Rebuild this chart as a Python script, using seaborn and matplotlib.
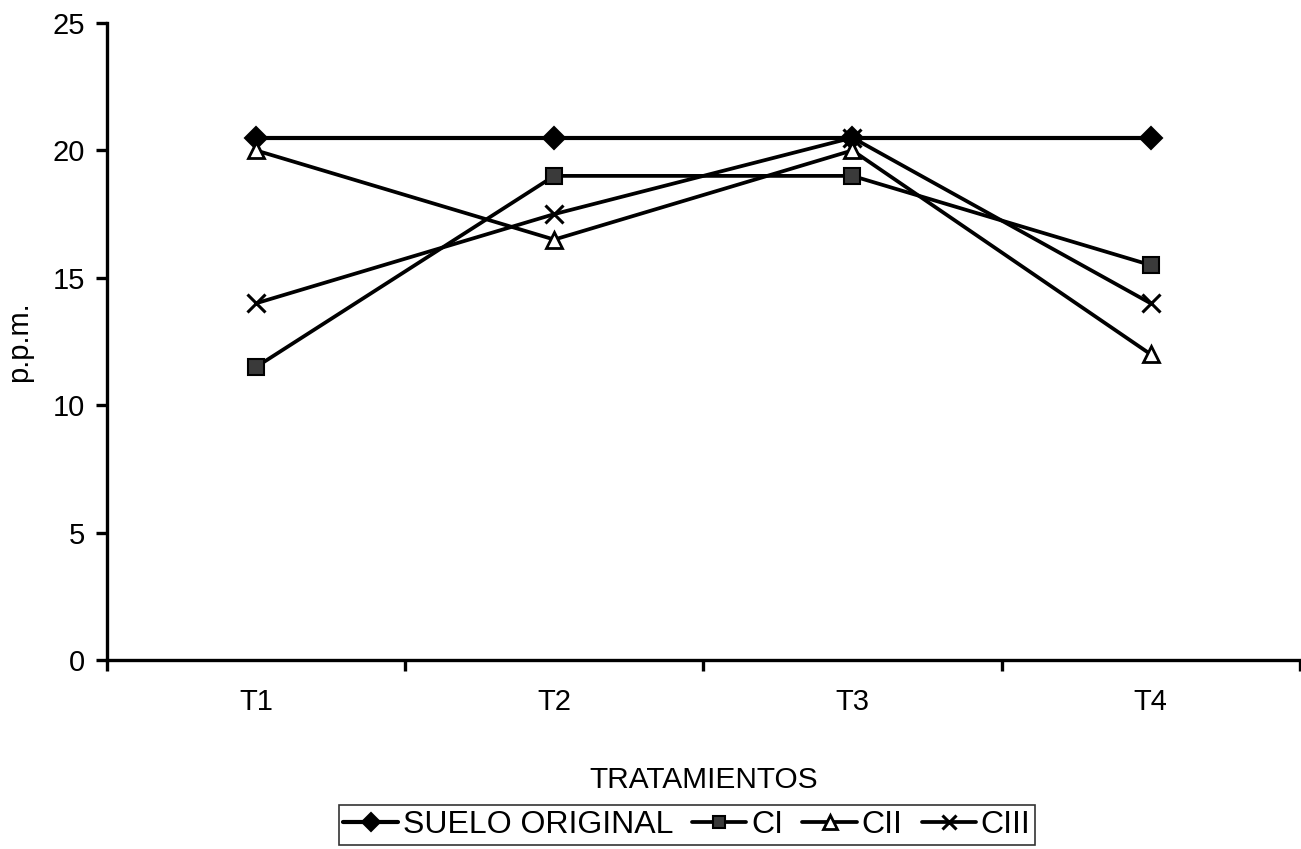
import matplotlib
matplotlib.use("Agg")
import matplotlib.pyplot as plt
import seaborn as sns
import pandas as pd

sns.set_theme(style="white")
plt.rcParams['font.family'] = ['Liberation Sans', 'DejaVu Sans']

tratamientos = ["T1", "T2", "T3", "T4"]
suelo_original = [20.5, 20.5, 20.5, 20.5]
ci = [11.5, 19.0, 19.0, 15.5]
cii = [20.0, 16.5, 20.0, 12.0]
ciii = [14.0, 17.5, 20.5, 14.0]

series = {
    "SUELO ORIGINAL": suelo_original,
    "CI": ci,
    "CII": cii,
    "CIII": ciii,
}
styles = {
    "SUELO ORIGINAL": dict(marker="D", markersize=11, markerfacecolor="black", markeredgecolor="black", markeredgewidth=1.5),
    "CI": dict(marker="s", markersize=11, markerfacecolor="#3a3a3a", markeredgecolor="black", markeredgewidth=1.5),
    "CII": dict(marker="^", markersize=12, markerfacecolor="white", markeredgecolor="black", markeredgewidth=2),
    "CIII": dict(marker="x", markersize=13, markeredgecolor="black", markeredgewidth=2.2),
}

fig = plt.figure(figsize=(13.01, 8.49), dpi=100)
ax = fig.add_axes([0.0822, 0.2226, 0.9168, 0.7503])

for name, vals in series.items():
    df = pd.DataFrame({"tratamiento": tratamientos, "ppm": vals})
    sns.lineplot(data=df, x="tratamiento", y="ppm", ax=ax, color="black",
                 linewidth=3 if name == "SUELO ORIGINAL" else 2.7,
                 label=name, sort=False, **styles[name])

ax.set_xlim(-0.5, 3.5)
ax.set_ylim(0, 25)
ax.set_yticks([0, 5, 10, 15, 20, 25])
ax.set_xticks(range(len(tratamientos)))
ax.set_xticklabels(tratamientos)
ax.set_xticks([-0.5, 0.5, 1.5, 2.5, 3.5], minor=True)

for side in ["top", "right"]:
    ax.spines[side].set_visible(False)
for side in ["left", "bottom"]:
    ax.spines[side].set_linewidth(2.4)
    ax.spines[side].set_color("black")

ax.tick_params(axis="y", which="major", direction="out", length=8, width=2.4,
               labelsize=21, colors="black", left=True, pad=8)
ax.tick_params(axis="x", which="major", length=0, labelsize=21, colors="black", pad=20)
ax.tick_params(axis="x", which="minor", direction="out", length=8, width=2.4,
               colors="black", bottom=True)

ax.set_xlabel("TRATAMIENTOS", fontsize=21.5, color="black", labelpad=36)
ax.set_ylabel("p.p.m.", fontsize=21, color="black", labelpad=14)

handles, labels = ax.get_legend_handles_labels()
ax.legend_.remove()
leg = fig.legend(handles, labels, loc="center", bbox_to_anchor=(0.528, 0.028),
                 ncol=4, frameon=True, fontsize=23, fancybox=False,
                 handlelength=1.7, handletextpad=0.15, columnspacing=0.6,
                 borderpad=0.15, edgecolor="black", markerscale=0.8,
                 labelcolor="black")
leg.get_frame().set_linewidth(1.2)

fig.savefig("out.png", dpi=100, facecolor="white")
